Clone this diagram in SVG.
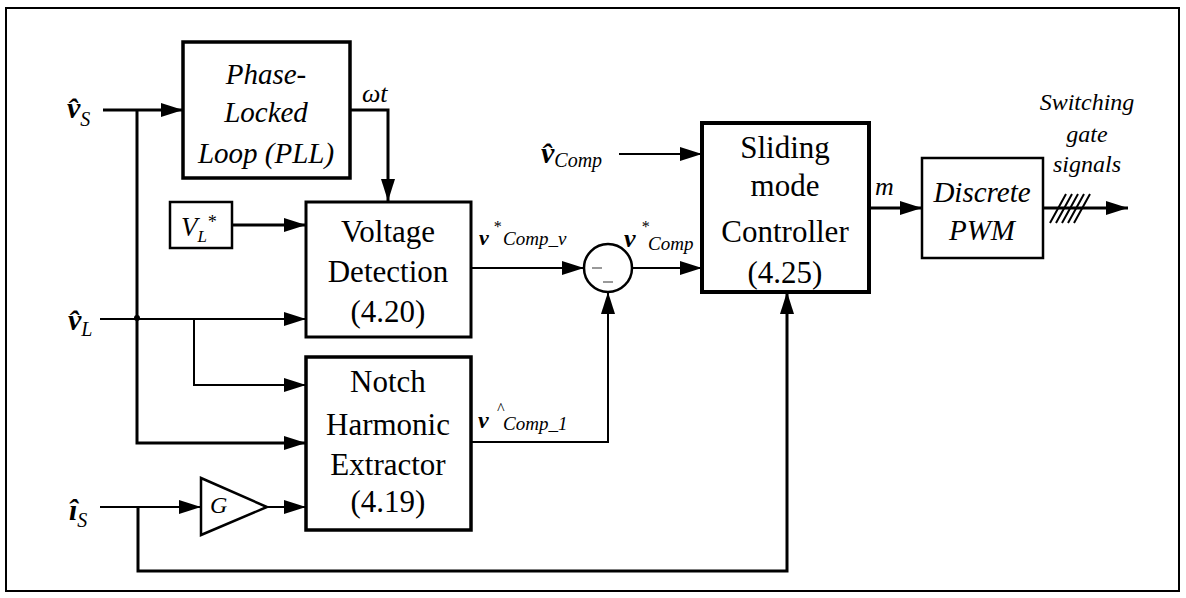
<svg xmlns="http://www.w3.org/2000/svg" width="1186" height="598" viewBox="0 0 1186 598">
<defs>
<marker id="ah" markerUnits="userSpaceOnUse" markerWidth="24" markerHeight="16" refX="22" refY="7" orient="auto">
<path d="M0,0 L22,7 L0,14 z" fill="#000"/>
</marker>
<style>
.box{fill:#fff;stroke:#000}
.w{fill:none;stroke:#000;stroke-width:3}
.t{fill:none;stroke:#000;stroke-width:2}
.lbl{font-family:"Liberation Serif","Times New Roman",serif;fill:#000}
.blk{font-size:31px;text-anchor:middle}
.it{font-style:italic}
.bi{font-style:italic;font-weight:bold}
</style>
</defs>
<rect x="6" y="8" width="1173" height="583" fill="#fff" stroke="#000" stroke-width="2"/>

<g id="connectors">
<path class="w" d="M103,110 H183" marker-end="url(#ah)"/>
<path class="w" d="M137,110 V443 H306" marker-end="url(#ah)"/>
<path class="t" d="M100,319 H306" marker-end="url(#ah)"/>
<circle cx="137" cy="318" r="3" fill="#000"/>
<path class="t" d="M194,319 V385 H306" marker-end="url(#ah)"/>
<path class="t" d="M100,507 H201" marker-end="url(#ah)"/>
<path class="w" d="M138,507 V571 H787 V292" marker-end="url(#ah)"/>
<path class="t" d="M267,507 H306" marker-end="url(#ah)"/>
<path class="w" d="M350,110 H388 V201" marker-end="url(#ah)"/>
<path class="w" d="M232,225 H306" marker-end="url(#ah)"/>
<path class="t" d="M471,268 H584" marker-end="url(#ah)"/>
<path class="t" d="M471,442 H608 V292" marker-end="url(#ah)"/>
<path class="t" d="M632,268 H702" marker-end="url(#ah)"/>
<path class="t" d="M619,154 H702" marker-end="url(#ah)"/>
<path class="w" d="M869,208 H922" marker-end="url(#ah)"/>
<path class="w" d="M1043,208 H1128" marker-end="url(#ah)"/>
<path class="t" d="M1050,223 L1066,194 M1056,223 L1072,194 M1062,223 L1078,194 M1068,223 L1084,194 M1074,223 L1090,194"/>
</g>

<text id="label-vs" class="lbl bi" x="67" y="118" font-size="30">v&#x302;<tspan class="it" font-weight="normal" font-size="20" dy="8">S</tspan></text>
<text id="label-vl" class="lbl bi" x="68" y="330" font-size="30">v&#x302;<tspan font-weight="normal" font-size="20" dy="6">L</tspan></text>
<text id="label-is" class="lbl bi" x="69" y="520" font-size="30">i&#x302;<tspan font-weight="normal" font-size="20" dy="7">S</tspan></text>

<g id="pll">
<rect class="box" x="183" y="42" width="167" height="136" stroke-width="3.5"/>
<text class="lbl it" x="266" y="84" font-size="29" text-anchor="middle">Phase-</text>
<text class="lbl it" x="266" y="122" font-size="29" text-anchor="middle">Locked</text>
<text class="lbl it" x="266" y="163" font-size="29" text-anchor="middle">Loop (PLL)</text>
</g>
<text id="label-wt" class="lbl it" x="362" y="102" font-size="26">ωt</text>

<g id="vlref">
<rect class="box" x="170" y="202" width="62" height="46" stroke-width="2.5"/>
<text class="lbl it" x="181" y="236" font-size="27">V<tspan font-size="17" dy="6">L</tspan><tspan font-size="18" dy="-14">*</tspan></text>
</g>

<g id="voltage-detection">
<rect class="box" x="306" y="202" width="165" height="135" stroke-width="3"/>
<text class="lbl blk" x="388" y="242">Voltage</text>
<text class="lbl blk" x="388" y="282">Detection</text>
<text class="lbl blk" x="388" y="322">(4.20)</text>
</g>

<g id="notch">
<rect class="box" x="306" y="357" width="165" height="173" stroke-width="3.5"/>
<text class="lbl blk" x="388" y="392">Notch</text>
<text class="lbl blk" x="388" y="435">Harmonic</text>
<text class="lbl blk" x="388" y="475">Extractor</text>
<text class="lbl blk" x="388" y="512">(4.19)</text>
</g>

<g id="gain">
<polygon points="201,478 267,507 201,535" fill="#fff" stroke="#000" stroke-width="2.5"/>
<text class="lbl it" x="210" y="513" font-size="24">G</text>
</g>

<g id="sum">
<circle cx="608" cy="268" r="24" fill="#fff" stroke="#000" stroke-width="2.5"/>
<path d="M592,268 H602 M603,282 H613" stroke="#999" stroke-width="2"/>
</g>

<g id="label-vcompv" class="lbl">
<text x="479" y="245" class="bi" font-size="22">v</text>
<text x="493" y="232" class="it" font-size="16">*</text>
<text x="503" y="245" class="it" font-size="19">Comp_v</text>
</g>
<g id="label-vcomp-star" class="lbl">
<text x="624" y="247" class="bi" font-size="26">v</text>
<text x="641" y="232" class="it" font-size="16">*</text>
<text x="648" y="250" class="it" font-size="19">Comp</text>
</g>
<g id="label-vcomp1" class="lbl">
<text x="478" y="428" class="bi" font-size="24">v</text>
<text x="500" y="414" class="it" font-size="16" text-anchor="middle">^</text>
<text x="503" y="430" class="it" font-size="19">Comp_1</text>
</g>
<text id="label-vcomp" class="lbl bi" x="541" y="163" font-size="30">v&#x302;<tspan font-weight="normal" font-size="20" dy="4">Comp</tspan></text>

<g id="smc">
<rect class="box" x="702" y="123" width="167" height="169" stroke-width="4"/>
<text class="lbl blk" x="785" y="158">Sliding</text>
<text class="lbl blk" x="785" y="196">mode</text>
<text class="lbl blk" x="785" y="242">Controller</text>
<text class="lbl blk" x="785" y="283">(4.25)</text>
</g>
<text id="label-m" class="lbl it" x="875" y="195" font-size="26">m</text>

<g id="pwm">
<rect class="box" x="922" y="158" width="121" height="100" stroke-width="2.5"/>
<text class="lbl it" x="982" y="202" font-size="29" text-anchor="middle">Discrete</text>
<text class="lbl it" x="982" y="240" font-size="29" text-anchor="middle">PWM</text>
</g>

<g id="label-switching" class="lbl it" font-size="24" text-anchor="middle">
<text x="1087" y="110">Switching</text>
<text x="1087" y="142">gate</text>
<text x="1087" y="172">signals</text>
</g>
</svg>
